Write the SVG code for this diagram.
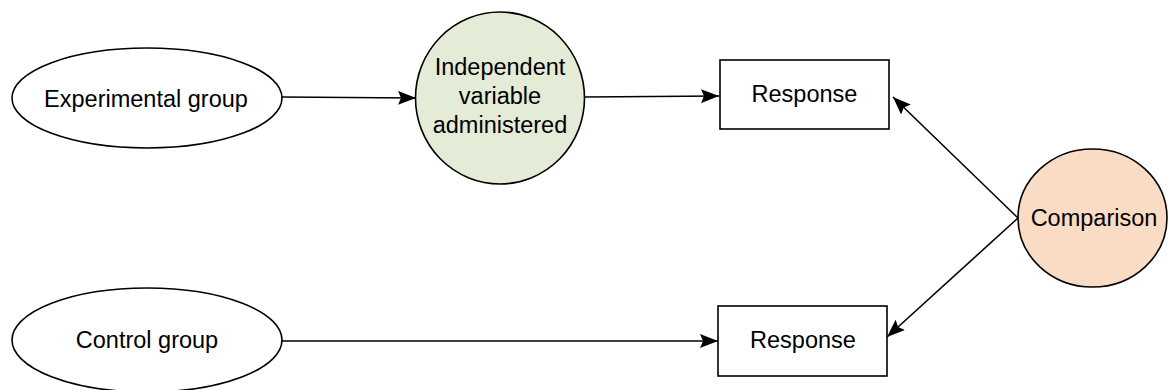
<svg xmlns="http://www.w3.org/2000/svg" width="1168" height="390" viewBox="0 0 1168 390">
<style>
.shape{stroke:#000;stroke-width:1.6}
.lbl{font-family:"Liberation Sans",Arial,sans-serif;font-size:23.5px;fill:#000;text-anchor:middle}
.conn{stroke:#000;stroke-width:1.6;fill:none;marker-end:url(#arr)}
</style>
<defs>
<marker id="arr" viewBox="0 0 18 14" refX="18" refY="7" markerWidth="18" markerHeight="14" markerUnits="userSpaceOnUse" orient="auto">
<path d="M0,0 L18,7 L0,14 L3,7 Z" fill="#000"/>
</marker>
</defs>
<rect width="1168" height="390" fill="#fff"/>
<g id="connectors">
<line class="conn" x1="282" y1="97" x2="416" y2="98"/>
<line class="conn" x1="585" y1="97" x2="719" y2="96"/>
<line class="conn" x1="1018" y1="218" x2="893" y2="97"/>
<line class="conn" x1="1018" y1="218" x2="887" y2="337"/>
<line class="conn" x1="282" y1="341" x2="718" y2="341"/>
</g>
<g id="experimental">
<ellipse class="shape" cx="147" cy="98" rx="135" ry="50" fill="#fff"/>
<text class="lbl" x="146" y="107">Experimental group</text>
</g>
<g id="independent">
<ellipse class="shape" cx="500" cy="98" rx="84.5" ry="86" fill="#e4ebd6"/>
<text class="lbl" x="500" y="75">Independent</text>
<text class="lbl" x="500" y="104">variable</text>
<text class="lbl" x="500" y="133">administered</text>
</g>
<g id="response1">
<rect class="shape" x="720" y="60" width="169" height="69" fill="#fff"/>
<text class="lbl" x="804.5" y="102">Response</text>
</g>
<g id="comparison">
<ellipse class="shape" cx="1092.5" cy="218" rx="74.5" ry="69" fill="#fadbc3"/>
<text class="lbl" x="1094" y="226">Comparison</text>
</g>
<g id="control">
<ellipse class="shape" cx="147" cy="340" rx="135" ry="52" fill="#fff"/>
<text class="lbl" x="147" y="348">Control group</text>
</g>
<g id="response2">
<rect class="shape" x="718" y="306" width="169" height="70" fill="#fff"/>
<text class="lbl" x="803" y="348">Response</text>
</g>
</svg>
